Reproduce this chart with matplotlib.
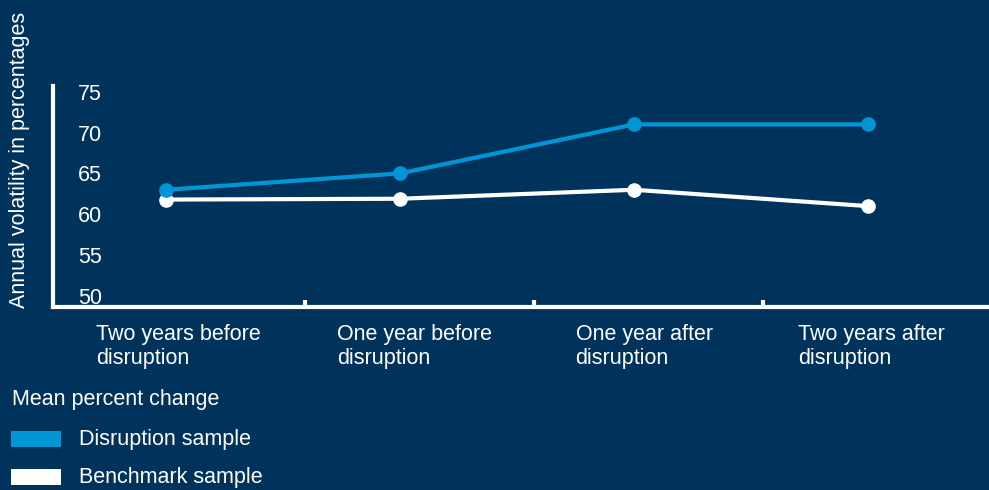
import numpy as np
import matplotlib
matplotlib.use("Agg")
import matplotlib.pyplot as plt
from matplotlib.patches import Rectangle
from matplotlib.transforms import blended_transform_factory, offset_copy

# data
periods = ["Two years before\ndisruption", "One year before\ndisruption",
           "One year after\ndisruption", "Two years after\ndisruption"]
disruption = [63, 65, 71, 71]
benchmark = [61.8, 61.9, 63, 61]
yticks = [50, 55, 60, 65, 70, 75]

bg = "#00335c"
blue = "#0096d6"
white = "#ffffff"
fs = 15.5

plt.rcParams['font.family'] = ['Liberation Sans', 'DejaVu Sans']

fig = plt.figure(figsize=(9.89, 4.9), dpi=100, facecolor=bg)
ax = fig.add_axes([53 / 989, 1 - 307 / 490, 1 - 53 / 989, (307 - 86) / 490])
ax.set_facecolor(bg)

x = np.arange(len(periods))
ax.plot(x, disruption, color=blue, lw=3, marker='o', ms=9.5, solid_capstyle='round', zorder=3)
ax.plot(x, benchmark, color=white, lw=3, marker='o', ms=9.5, solid_capstyle='round', zorder=2)

ax.set_xlim(-0.483, 3.517)
ax.set_ylim(48.65, 75.7)

for s in ['top', 'right']:
    ax.spines[s].set_visible(False)
for s in ['left', 'bottom']:
    ax.spines[s].set_color(white)
    ax.spines[s].set_linewidth(3)

ax.set_yticks(yticks)
ax.tick_params(axis='y', length=0, pad=-18, labelsize=fs, labelcolor=white)
for lab in ax.get_yticklabels():
    lab.set_horizontalalignment('left')
    lab.set_verticalalignment('center_baseline')

# category labels are left aligned, a little right of each point
ax.set_xticks(x)
ax.set_xticklabels([])
ax.tick_params(axis='x', length=0)
label_shift = [0.30, 0.27, 0.25, 0.30]
trans = offset_copy(blended_transform_factory(ax.transData, ax.transAxes),
                    fig=fig, y=-12, units='points')
for xi, name, sh in zip(x, periods, label_shift):
    ax.text(xi - sh, 0, name, transform=trans, ha='left', va='top',
            color=white, fontsize=fs, linespacing=1.2)

ax.set_xticks(x[:-1] * 0.979 + 0.594, minor=True)
ax.tick_params(axis='x', which='minor', direction='in', length=5, width=3, color=white)

fig.text(20 / 989, 1 - 160 / 490, "Annual volatility in percentages", rotation=90,
         ha='center', va='center', color=white, fontsize=fs)

# legend block
fig.text(12 / 989, 1 - 399 / 490, "Mean percent change", ha='left', va='center',
         color=white, fontsize=fs)
for yc, col, name in [(439, blue, "Disruption sample"), (477, white, "Benchmark sample")]:
    fig.patches.append(Rectangle((11 / 989, 1 - (yc + 8) / 490), 50 / 989, 16 / 490,
                                 transform=fig.transFigure, facecolor=col, edgecolor='none'))
    fig.text(79 / 989, 1 - yc / 490, name, ha='left', va='center', color=white, fontsize=fs)

fig.savefig("out.png", dpi=100, facecolor=bg)
